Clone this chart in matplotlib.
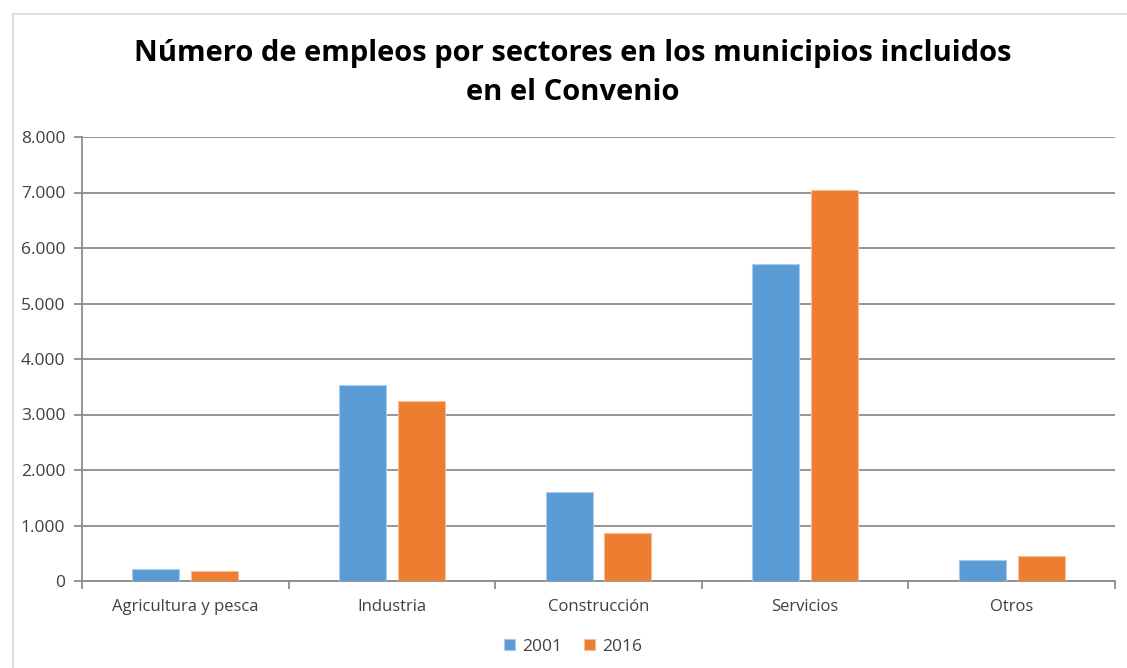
import matplotlib
matplotlib.use("Agg")
import matplotlib.pyplot as plt
from matplotlib.patches import Rectangle
from matplotlib.ticker import FuncFormatter, MultipleLocator
import numpy as np

categories = ["Agricultura y pesca", "Industria", "Construcción", "Servicios", "Otros"]
series_names = ["2001", "2016"]
values_2001 = [210, 3530, 1605, 5720, 375]
values_2016 = [175, 3245, 860, 7045, 458]
colors = ["#5B9BD5", "#ED7D31"]

plt.rcParams['font.family'] = ['Open Sans', 'DejaVu Sans']

fig = plt.figure(figsize=(11.27, 6.68), dpi=100)
ax = fig.add_axes([82/1127, 1-581/668, (1115-82)/1127, (581-137)/668])

# outer border
fig.patches.append(Rectangle((13/1127, -0.01), 1.02, 1-14/668+0.01, transform=fig.transFigure,
                             fill=False, edgecolor="#D9D9D9", linewidth=1.2))

x = np.arange(len(categories))
w = 0.227
off = 0.1425
ax.bar(x - off, values_2001, w, color=colors[0], edgecolor="#A9CBEA", linewidth=0.8, label=series_names[0], zorder=3)
ax.bar(x + off, values_2016, w, color=colors[1], edgecolor="#F6BE98", linewidth=0.8, label=series_names[1], zorder=3)

ax.set_xlim(-0.5, len(categories) - 0.5)
ax.set_ylim(0, 8000)
ax.yaxis.set_major_locator(MultipleLocator(1000))
ax.yaxis.set_major_formatter(FuncFormatter(lambda v, p: f"{int(v):,}".replace(",", ".")))
ax.grid(axis="y", color="#8C8C8C", linewidth=1.3, zorder=0)
ax.set_axisbelow(True)

for s in ["top", "right"]:
    ax.spines[s].set_visible(False)
ax.spines["left"].set_color("#8C8C8C")
ax.spines["bottom"].set_color("#8C8C8C")
ax.spines["left"].set_linewidth(1.3)
ax.spines["bottom"].set_linewidth(1.3)

ax.set_xticks(x)
ax.set_xticklabels(categories, fontsize=12, color="#404040")
ax.tick_params(axis="x", length=0, pad=13)
ax.set_xticks(np.arange(-0.5, len(categories), 1.0), minor=True)
ax.tick_params(axis="x", which="minor", length=6, color="#8C8C8C", width=1.3, direction="out")
ax.tick_params(axis="y", length=6, color="#8C8C8C", width=1.3, labelsize=12.5, labelcolor="#404040", pad=6)

fig.text(573/1127, 1-73/668, "Número de empleos por sectores en los municipios incluidos\nen el Convenio",
         ha="center", va="center", fontsize=21, fontweight="bold", color="black", linespacing=1.5)

leg = fig.legend(loc="center", bbox_to_anchor=(573/1127, 1-647/668), ncol=2, frameon=False,
                 fontsize=12.5, handlelength=0.6, handleheight=0.6, columnspacing=1.3, handletextpad=0.4)
for t in leg.get_texts():
    t.set_color("#404040")

fig.savefig("out.png", dpi=100)
